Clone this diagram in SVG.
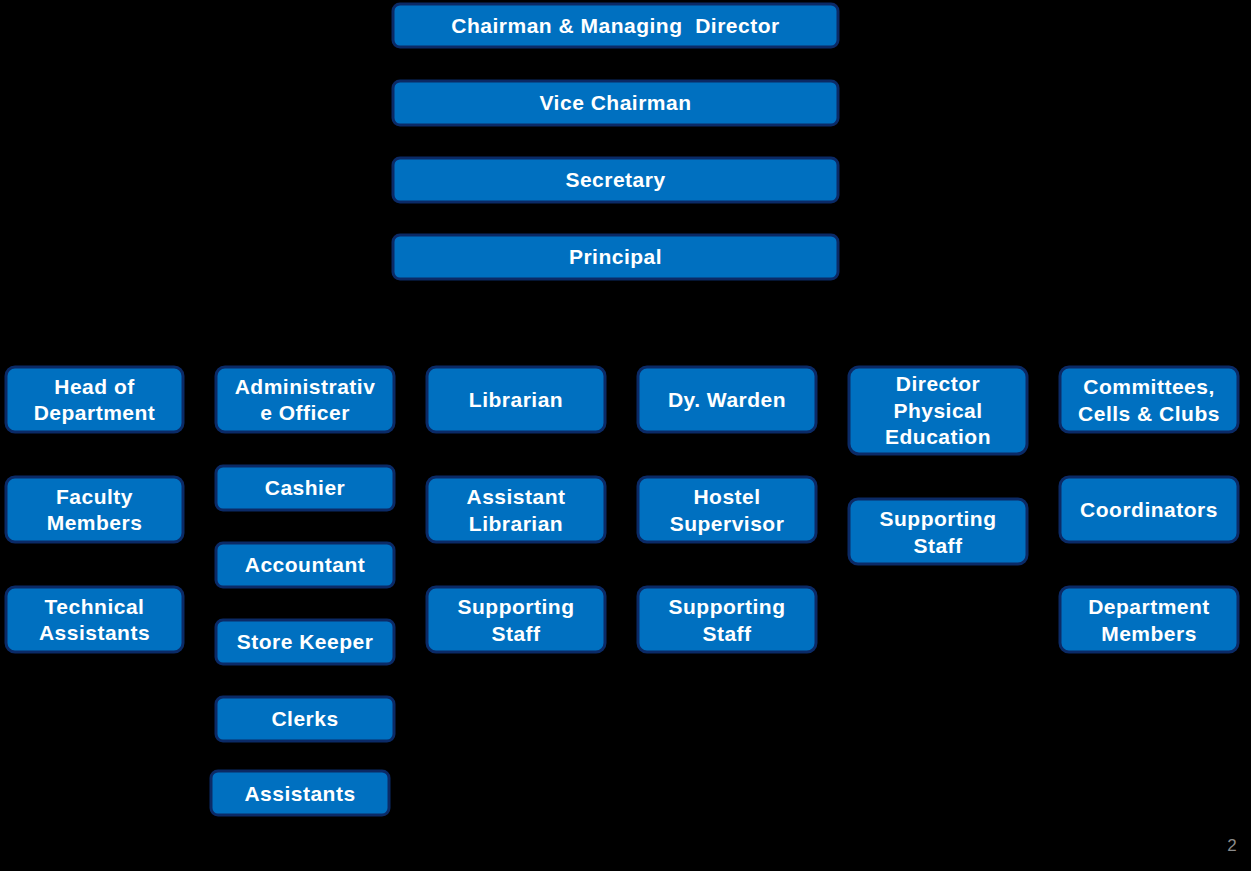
<svg xmlns="http://www.w3.org/2000/svg" width="1251" height="871" viewBox="0 0 1251 871">
<style>
.b{fill:#0070C0;stroke:#0B2A66;stroke-width:3}
.t{fill:#fff;font-family:"Liberation Sans",Arial,sans-serif;font-weight:bold;font-size:21px;letter-spacing:0.5px;text-anchor:middle}
.pg{fill:#8c8c8c;font-family:"Liberation Sans",Arial,sans-serif;font-size:17px;text-anchor:middle}
</style>
<rect width="1251" height="871" fill="#000"/>
<g id="connectors"></g>
<g id="n-cmd"><rect class="b" x="393" y="4" width="445" height="43" rx="7"/><text class="t" x="615.5" y="33">Chairman &amp; Managing&#160; Director</text></g>
<g id="n-vice"><rect class="b" x="393" y="81" width="445" height="44" rx="7"/><text class="t" x="615.5" y="110">Vice Chairman</text></g>
<g id="n-sec"><rect class="b" x="393" y="158" width="445" height="44" rx="7"/><text class="t" x="615.5" y="187">Secretary</text></g>
<g id="n-prin"><rect class="b" x="393" y="235" width="445" height="44" rx="7"/><text class="t" x="615.5" y="264">Principal</text></g>

<g id="n-hod"><rect class="b" x="6" y="367" width="177" height="65" rx="9"/><text class="t" x="94.5" y="394">Head of</text><text class="t" x="94.5" y="420">Department</text></g>
<g id="n-fac"><rect class="b" x="6" y="477" width="177" height="65" rx="9"/><text class="t" x="94.5" y="504">Faculty</text><text class="t" x="94.5" y="530">Members</text></g>
<g id="n-tech"><rect class="b" x="6" y="587" width="177" height="65" rx="9"/><text class="t" x="94.5" y="614">Technical</text><text class="t" x="94.5" y="640">Assistants</text></g>

<g id="n-ao"><rect class="b" x="216" y="367" width="178" height="65" rx="9"/><text class="t" x="305" y="394">Administrativ</text><text class="t" x="305" y="420">e Officer</text></g>
<g id="n-cash"><rect class="b" x="216" y="466" width="178" height="44" rx="7"/><text class="t" x="305" y="495">Cashier</text></g>
<g id="n-acc"><rect class="b" x="216" y="543" width="178" height="44" rx="7"/><text class="t" x="305" y="572">Accountant</text></g>
<g id="n-store"><rect class="b" x="216" y="620" width="178" height="44" rx="7"/><text class="t" x="305" y="649">Store Keeper</text></g>
<g id="n-clerks"><rect class="b" x="216" y="697" width="178" height="44" rx="7"/><text class="t" x="305" y="726">Clerks</text></g>
<g id="n-asst"><rect class="b" x="211" y="771" width="178" height="44" rx="7"/><text class="t" x="300" y="801">Assistants</text></g>

<g id="n-lib"><rect class="b" x="427" y="367" width="178" height="65" rx="9"/><text class="t" x="516" y="407">Librarian</text></g>
<g id="n-alib"><rect class="b" x="427" y="477" width="178" height="65" rx="9"/><text class="t" x="516" y="504">Assistant</text><text class="t" x="516" y="531">Librarian</text></g>
<g id="n-ls"><rect class="b" x="427" y="587" width="178" height="65" rx="9"/><text class="t" x="516" y="614">Supporting</text><text class="t" x="516" y="641">Staff</text></g>

<g id="n-dyw"><rect class="b" x="638" y="367" width="178" height="65" rx="9"/><text class="t" x="727" y="407">Dy. Warden</text></g>
<g id="n-hs"><rect class="b" x="638" y="477" width="178" height="65" rx="9"/><text class="t" x="727" y="504">Hostel</text><text class="t" x="727" y="531">Supervisor</text></g>
<g id="n-hss"><rect class="b" x="638" y="587" width="178" height="65" rx="9"/><text class="t" x="727" y="614">Supporting</text><text class="t" x="727" y="641">Staff</text></g>

<g id="n-dpe"><rect class="b" x="849" y="367" width="178" height="87" rx="10"/><text class="t" x="938" y="391">Director</text><text class="t" x="938" y="418">Physical</text><text class="t" x="938" y="444">Education</text></g>
<g id="n-pes"><rect class="b" x="849" y="499" width="178" height="65" rx="9"/><text class="t" x="938" y="526">Supporting</text><text class="t" x="938" y="553">Staff</text></g>

<g id="n-comm"><rect class="b" x="1060" y="367" width="178" height="65" rx="9"/><text class="t" x="1149" y="394">Committees,</text><text class="t" x="1149" y="421">Cells &amp; Clubs</text></g>
<g id="n-coord"><rect class="b" x="1060" y="477" width="178" height="65" rx="9"/><text class="t" x="1149" y="517">Coordinators</text></g>
<g id="n-dm"><rect class="b" x="1060" y="587" width="178" height="65" rx="9"/><text class="t" x="1149" y="614">Department</text><text class="t" x="1149" y="641">Members</text></g>

<text class="pg" x="1232" y="851">2</text>
</svg>
